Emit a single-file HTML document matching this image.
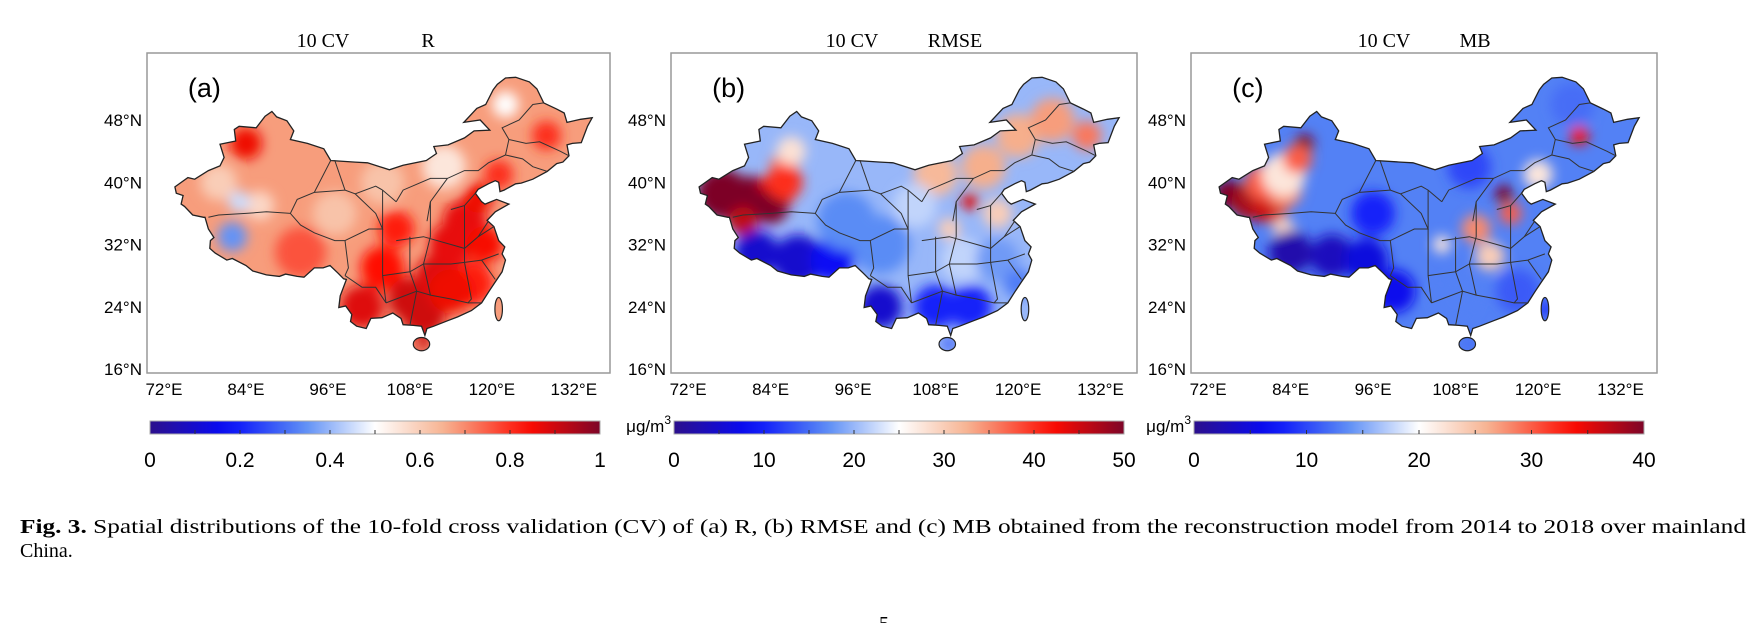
<!DOCTYPE html>
<html><head><meta charset="utf-8">
<style>
html,body{margin:0;padding:0;background:#fff;}
svg{display:block;}
text{font-family:"Liberation Sans",sans-serif;}
.serif{font-family:"Liberation Serif",serif;}
</style></head>
<body>
<svg id="fig" width="1748" height="623" viewBox="0 0 1748 623" xmlns="http://www.w3.org/2000/svg">
<defs>
<filter id="blur" x="-20%" y="-20%" width="140%" height="140%"><feGaussianBlur stdDeviation="6"/></filter>
</defs>
<text class="serif" x="20" y="533" font-size="20" textLength="1726" lengthAdjust="spacingAndGlyphs"><tspan font-weight="bold">Fig. 3.</tspan> Spatial distributions of the 10-fold cross validation (CV) of (a) R, (b) RMSE and (c) MB obtained from the reconstruction model from 2014 to 2018 over mainland</text>
<text class="serif" x="20" y="557" font-size="20">China.</text>
<text class="serif" x="879" y="630" font-size="20">5</text>
</svg>
<script>
const outlineLon=[73.6,75.5,76.5,78.5,80.2,80.8,80.2,82.5,82.3,83.0,85.5,86.8,87.8,88.5,90.0,91.0,90.5,93.0,95.4,96.4,100.0,101.8,105.0,107.0,110.4,111.9,111.5,113.6,116.0,117.4,119.7,118.3,115.9,117.8,119.1,120.2,120.8,122.0,123.5,125.5,126.6,127.6,129.5,130.6,131.0,133.0,134.7,134.0,133.1,131.8,131.0,131.3,130.4,129.5,128.1,126.0,124.3,123.5,121.8,121.2,121.0,120.5,119.5,118.0,117.6,118.5,119.0,120.7,122.5,120.5,119.3,120.3,121.0,121.9,121.5,122.0,121.5,120.5,119.6,118.5,117.0,115.0,113.5,111.5,110.5,110.2,109.7,108.5,107.0,106.7,105.5,103.9,102.3,101.6,100.2,99.3,99.5,98.6,97.6,97.8,98.7,98.3,97.5,96.3,95.3,94.0,92.5,91.5,89.8,88.9,87.0,85.0,84.0,82.0,81.2,79.5,78.7,78.8,79.3,78.5,78.0,77.8,76.2,75.0,74.5,74.8,73.8];
const outlineLat=[39.4,40.6,40.4,41.5,42.1,43.2,44.9,45.3,46.8,47.2,47.0,48.5,49.1,48.4,47.9,46.6,45.5,45.0,44.3,42.8,42.6,42.5,41.6,42.2,42.8,43.7,44.6,44.8,45.7,46.6,46.7,48.0,47.7,49.5,50.0,51.9,52.6,53.4,53.5,52.9,52.0,50.2,49.4,48.9,47.7,48.1,48.3,47.2,45.1,45.0,44.8,43.4,42.6,42.4,41.4,40.4,39.9,39.8,39.0,38.8,40.0,40.2,39.8,39.1,38.6,37.5,37.2,37.8,37.2,36.2,35.1,34.3,32.5,31.7,30.8,30.0,28.5,27.2,26.0,24.5,23.5,22.7,22.2,21.5,21.2,20.3,21.5,21.6,21.7,22.5,23.2,22.6,22.5,21.2,21.5,22.1,23.0,24.1,23.9,25.4,27.5,27.6,28.3,29.3,29.0,29.0,27.8,27.9,28.2,27.9,28.1,28.6,29.3,30.2,30.0,30.9,31.5,32.5,32.9,34.0,35.5,35.5,35.8,36.9,37.2,38.3,38.6];

const borders=[
 [78.5,35.5,80,35.8,84,36,87,36.2,90.5,36,91.5,37.8,94,38.7,96.4,42.8],
 [90.5,36,92,34.5,94,33.5,97,32.5,98.5,32.5,99,29,98.5,28],
 [96.4,42.8,97,42.8,98.5,39,100,38.5,103,39.5,104,39,106,37.5],
 [106,37.5,107,39,111,40.5,113.5,40.5,116,41.5,118,41.5,119.5,42.5,122,43.5,122.5,45.5,121.5,47,124,48,126,50,127.6,50.2],
 [122.5,45.5,125,45,127,45.2,130,44,131.3,43.4],
 [122,43.5,124.5,43,126,42,128.1,41.4],
 [110.5,35,111,37.5,113.5,40.5],
 [114,36.5,116,37,117.6,38.6],
 [106,32.5,110,33,114,32,116,31.5,118,33,120.3,34.3],
 [104,28,108,28.5,110,29.5,114,29.5,116,29.7,118.5,30,121,30.8],
 [104.5,24.5,106,25,109,26,111,25.5,114,25,116.5,24.5,118.5,24.5],
 [98.5,28,101,26.5,103,26.5,104.5,24.5],
 [108,33,108,28.5,109,26,108,21.6],
 [111,37.5,111,33,110,29.5,111,25.5],
 [116,37,116,31.5,116,29.7,117,25,116.5,24.5],
 [104,39,104,34,104,28,104.5,24.5],
 [119.5,35,118,33],
 [120.5,27.5,118.5,30],
 [98.5,32.5,102,34,104,34,103,36,100,38.5],
 [94,38.7,98.5,39]
];

const aLon=[84,80,86,83,82,92,97,104,113,101,104,108,112,110,114,116,119,117,128,122,110,106,118,121,114];
const aLat=[45,40,37,37.5,33,31,36,40,42,24,29,25,28,23,32,35,32,27,46,50,19.2,34,38,41,26];
const aVal=[0.86,0.6,0.58,0.45,0.35,0.76,0.62,0.62,0.55,0.88,0.84,0.9,0.88,0.9,0.87,0.87,0.85,0.82,0.8,0.5,0.9,0.82,0.86,0.8,0.86];
const aSpread=[2.2,2.5,2,1.5,2,3.5,3,3,3,3,3,3,3,3,3,3,2.5,3,2,1.8,1,2.5,2,2,3];

const bLon=[77,81,80,85,86,87,84,86,82,88,93,100,108,113,108,115,120,125,130,95,100,105,113,117,110,112,117,120,110];
const bLat=[38.5,38,35,39,42,44,37,40,31,30,30,24,24,24,41,42,46,48,46,35,32,37,37.5,36,34,30,30,27,19.2];
const bVal=[50,50,46,42,36,28,50,40,5,5,8,5,10,10,32,33,33,34,36,17,17,22,44,30,30,22,18,16,14];
const bSpread=[3.5,3,2,2.5,2,2,2.5,2.5,3,3.5,3,3,3,3,3,3,3,3,2,4,4,3,1.2,2,1.5,3,3,2,1];

const cLon=[75,78,81,83,80,83,86,85,83,84,90,95,99,96,115,116,111,113,106,126,120,110,125,108,117,121,110];
const cLat=[38.5,37.5,37,39,40,41,45,43,34,31,30.5,30,26,36,38.5,36,34,30.5,32,46,41,42,50,25,26,23.7,19.2];
const cVal=[40,38,36,28,30,22,40,30,23,2,3,5,6,8,40,30,28,24,22,34,22,10,12,13,11,8,12];
const cSpread=[2,2.5,2.5,2.5,2.5,3,1.3,2,1.5,3,3,3,3,3,1.2,1.5,2,2,1.2,1.3,2,3,3,3,3,1,1];

const aBase=0.68, bBase=20, cBase=13;

const stops=[[0,[44,15,140]],[0.17,[5,10,250]],[0.34,[90,140,245]],[0.5,[255,255,255]],[0.66,[246,175,140]],[0.84,[255,10,0]],[1,[125,5,40]]];
function cmap(t){t=Math.max(0,Math.min(1,t));for(let i=1;i<stops.length;i++){if(t<=stops[i][0]){const a=stops[i-1],b=stops[i];const f=(t-a[0])/(b[0]-a[0]);const c=a[1].map((v,k)=>Math.round(v+(b[1][k]-v)*f));return `rgb(${c[0]},${c[1]},${c[2]})`;}}return 'rgb(125,5,40)';}

const NS='http://www.w3.org/2000/svg';
const svg=document.getElementById('fig');
function el(tag,attrs,parent){const e=document.createElementNS(NS,tag);for(const k in attrs)e.setAttribute(k,attrs[k]);(parent||svg).appendChild(e);return e;}

const panels=[
 {id:'a',L:147,R:610,t1x:323,t2x:428,t2:'R',label:'(a)',lon:aLon,lat:aLat,val:aVal,sp:aSpread,base:aBase,vmax:1,barL:150,barR:600,ticks:[0,0.2,0.4,0.6,0.8,1],minor:0.1,unit:false},
 {id:'b',L:671,R:1137,t1x:852,t2x:955,t2:'RMSE',label:'(b)',lon:bLon,lat:bLat,val:bVal,sp:bSpread,base:bBase,vmax:50,barL:674,barR:1124,ticks:[0,10,20,30,40,50],minor:5,unit:true},
 {id:'c',L:1191,R:1657,t1x:1384,t2x:1475,t2:'MB',label:'(c)',lon:cLon,lat:cLat,val:cVal,sp:cSpread,base:cBase,vmax:40,barL:1194,barR:1644,ticks:[0,10,20,30,40],minor:5,unit:true}
];
const TOP=53,BOT=373;
panels.forEach(p=>{
 const W=p.R-p.L, s=W/463;
 const xOf=lon=>p.L+17*s+(lon-72)*6.83*s;
 const yOf=lat=>369-(lat-16)*7.78;
 const g=el('g',{});
 
 
 const t1=el('text',{x:p.t1x,y:47,'font-size':20,'text-anchor':'middle',class:'serif'},g);t1.textContent='10 CV';
 
 
 const t2=el('text',{x:p.t2x,y:47,'font-size':20,'text-anchor':'middle',class:'serif'},g);t2.textContent=p.t2;
 
 
 const fr=el('rect',{x:p.L,y:TOP,width:W,height:BOT-TOP,fill:'#fff',stroke:'#999','stroke-width':1.5},g);
 
 
 let d='M'+outlineLon.map((lo,i)=>xOf(lo).toFixed(1)+','+yOf(outlineLat[i]).toFixed(1)).join('L')+'Z';
 const cx1=xOf(109.7),cy1=yOf(19.2),cx2=xOf(121),cy2=yOf(23.7);
 const cp=el('clipPath',{id:'clip-'+p.id},g);
 el('path',{d:d},cp);
 el('ellipse',{cx:cx1,cy:cy1,rx:1.2*6.83*s,ry:0.85*7.78},cp);
 el('ellipse',{cx:cx2,cy:cy2,rx:0.55*6.83*s,ry:1.5*7.78},cp);
 const mg=el('g',{'clip-path':'url(#clip-'+p.id+')'},g);
 
 
 el('rect',{x:p.L,y:TOP,width:W,height:BOT-TOP,fill:cmap(p.base/p.vmax)},mg);
 const bg=el('g',{filter:'url(#blur)'},mg);
 p.lon.forEach((lo,i)=>{
  const c=el('circle',{cx:xOf(lo),cy:yOf(p.lat[i]),r:p.sp[i]*7.3,fill:cmap(p.val[i]/p.vmax)},bg);
  
  
 });
 const ol=el('path',{d:d,fill:'none',stroke:'#222','stroke-width':1.3},g);
 
 
 el('ellipse',{cx:cx1,cy:cy1,rx:1.2*6.83*s,ry:0.85*7.78,fill:'none',stroke:'#222','stroke-width':1.2},g);
 el('ellipse',{cx:cx2,cy:cy2,rx:0.55*6.83*s,ry:1.5*7.78,fill:'none',stroke:'#222','stroke-width':1.2},g);
 borders.forEach(b=>{
  let pd='';for(let i=0;i<b.length;i+=2)pd+=(i?'L':'M')+xOf(b[i]).toFixed(1)+','+yOf(b[i+1]).toFixed(1);
  const bl=el('path',{d:pd,fill:'none',stroke:'#333','stroke-width':1},g);
  
  
 });
 const pl=el('text',{x:xOf(75.5),y:97,'font-size':27},g);pl.textContent=p.label;
 
 
 [16,24,32,40,48].forEach(lat=>{
  const t=el('text',{x:p.L-5,y:yOf(lat)+6,'font-size':17,'text-anchor':'end'},g);t.textContent=lat+'°N';
  
  
 });
 [72,84,96,108,120,132].forEach(lon=>{
  const t=el('text',{x:xOf(lon),y:395,'font-size':17,'text-anchor':'middle'},g);t.textContent=lon+'°E';
  
  
 });
 const gid='grad-'+p.id;
 const lg=el('linearGradient',{id:gid,x1:0,x2:1,y1:0,y2:0},g);
 for(let i=0;i<=20;i++){el('stop',{offset:i/20,'stop-color':cmap(i/20)},lg);}
 const bar=el('rect',{x:p.barL,y:421,width:p.barR-p.barL,height:13,fill:'url(#'+gid+')',stroke:'#aaa','stroke-width':1},g);
 
 
 const bx=v=>p.barL+(p.barR-p.barL)*v/p.vmax;
 for(let v=p.minor;v<p.vmax-1e-9;v+=p.minor){el('line',{x1:bx(v),x2:bx(v),y1:430,y2:434,stroke:'#333','stroke-width':1},g);}
 p.ticks.forEach(v=>{
  const t=el('text',{x:bx(v),y:467,'font-size':21,'text-anchor':'middle'},g);t.textContent=String(v);
  
  
 });
 if(p.unit){
  const u=el('text',{x:p.barL-3,y:432,'font-size':17,'text-anchor':'end'},g);
  u.innerHTML='μg/m<tspan dy="-8" font-size="12">3</tspan>';
  
  
 }
});
</script>
</body></html>
